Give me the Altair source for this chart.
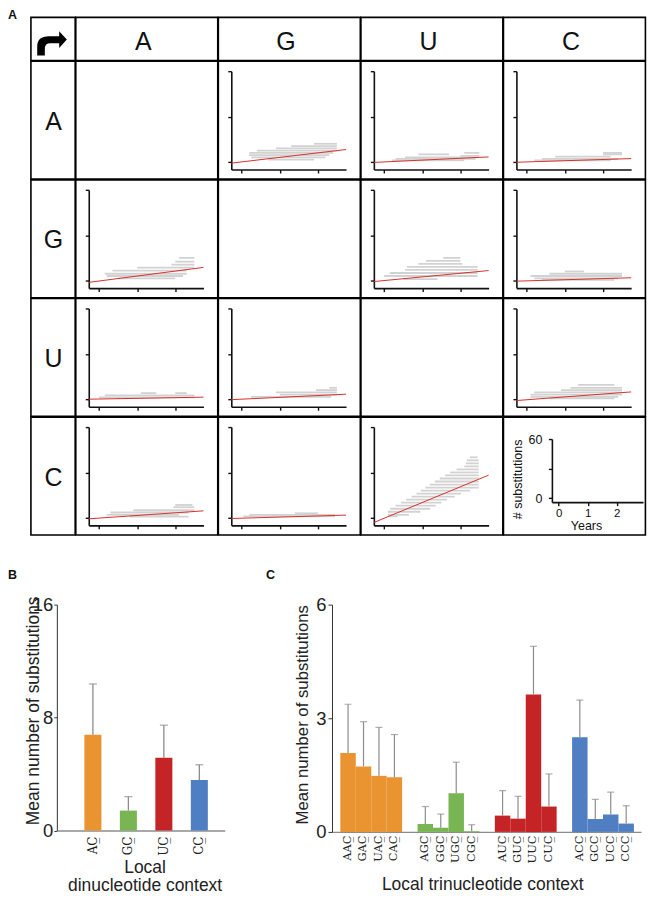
import altair as alt
import pandas as pd

# ---------------- data ----------------
NUCS = ["A", "G", "U", "C"]
YEAR_TICKS = [0, 1, 2]
SUBST_TICKS = [0, 30, 60]

# red regression line per panel (row nucleotide + column nucleotide):
# y at the two ends of the x axis
FIT_X = [-0.27, 2.74]
FIT_Y = {
    "AG": [-0.8, 8.2], "AU": [-0.32, 3.3], "AC": [-0.22, 2.2],
    "GA": [-1.2, 8.7], "GU": [-0.65, 6.6], "GC": [-0.4, 1.85],
    "UA": [-0.02, 1.33], "UG": [-0.32, 3.3], "UC": [-0.9, 4.8],
    "CA": [-0.67, 4.6], "CG": [-0.45, 1.78], "CU": [-3.1, 28.2],
}

# grey streaks of the per-sequence clouds: (substitutions, years from, years to)
CLOUD = {
    "AG": [(12, 1.9, 2.5), (10.5, 1.3, 2.5), (9, 0.9, 2.5), (7.5, 0.4, 2.5), (6, 0.2, 2.4),
           (4.5, 0.2, 2.3), (3, 0.25, 2.2), (1.5, 0.7, 1.9)],
    "AU": [(6, 2.1, 2.5), (5, 0.9, 1.7), (4, 2.0, 2.5), (3, 0.55, 2.45), (2, 0.3, 2.4), (1, 0.2, 2.1)],
    "AC": [(6, 2.0, 2.5), (5, 2.0, 2.5), (3.5, 0.75, 2.2), (2, 0.4, 2.4), (1, 0.2, 2.2)],
    "GA": [(15, 2.1, 2.5), (12.5, 2.0, 2.5), (10.5, 1.9, 2.5), (8.5, 1.0, 2.5), (6.5, 0.35, 2.3),
           (4.5, 0.15, 2.3), (3, 0.2, 2.2), (1.5, 0.5, 2.0)],
    "GU": [(15, 1.55, 2.0), (13, 1.1, 2.0), (11, 0.9, 2.05), (9, 0.6, 2.45), (7, 0.55, 2.45),
           (5, 0.15, 2.45), (3, 0.0, 2.45), (1, 0.5, 1.4)],
    "GC": [(6, 1.0, 1.5), (4.5, 0.6, 2.5), (3, 0.1, 2.5), (1.5, 0.2, 2.4), (0.5, 0.4, 2.3)],
    "UA": [(4, 1.1, 1.5), (4, 2.0, 2.3), (2.5, 0.15, 2.5), (1.2, 0.0, 2.5)],
    "UG": [(7.5, 2.3, 2.5), (6, 1.95, 2.5), (4.5, 0.9, 2.5), (3, 1.0, 2.5), (1.5, 0.25, 2.35)],
    "UC": [(9.5, 1.35, 2.3), (7.5, 1.15, 2.5), (6, 0.9, 2.5), (4.5, 0.2, 2.5), (3, 0.1, 2.5),
           (1.5, 0.1, 2.4), (0.5, 0.6, 2.3)],
    "CA": [(8.5, 2.0, 2.45), (7, 1.95, 2.5), (5, 0.9, 2.5), (3.5, 0.3, 2.35), (2, 0.2, 2.1),
           (0.8, 0.8, 2.35)],
    "CG": [(3, 1.4, 2.0), (2, 0.2, 2.45), (1, 0.05, 2.45)],
    "CU": [(40, 2.25, 2.45), (38, 2.17, 2.48), (36, 2.14, 2.48), (34, 2.1, 2.48), (32, 1.9, 2.48),
           (30, 1.73, 2.48), (28, 1.6, 2.48), (26, 1.46, 2.48), (24, 1.33, 2.48), (22, 1.2, 2.48),
           (20, 1.08, 2.48), (18, 0.96, 2.25), (16, 0.85, 2.02), (14, 0.72, 1.85), (12, 0.58, 1.65),
           (10, 0.44, 1.5), (8, 0.3, 1.35), (6, 0.16, 1.21), (4, 0.1, 0.95), (2, 0.1, 0.65),
           (1, 0.1, 0.35)],
}

B_CONTEXT = ["AC\u0332", "GC\u0332", "UC\u0332", "CC\u0332"]
B_MEAN = [6.78, 1.41, 5.15, 3.58]
B_ERR_TOP = [10.38, 2.40, 7.46, 4.66]
B_TICKS = [0, 8, 16]

C_CONTEXT = ["AAC\u0332", "GAC\u0332", "UAC\u0332", "CAC\u0332",
             "AGC\u0332", "GGC\u0332", "UGC\u0332", "CGC\u0332",
             "AUC\u0332", "GUC\u0332", "UUC\u0332", "CUC\u0332",
             "ACC\u0332", "GCC\u0332", "UCC\u0332", "CCC\u0332"]
C_MEAN = [2.08, 1.73, 1.48, 1.44, 0.21, 0.11, 1.02, 0.02,
          0.43, 0.35, 3.63, 0.67, 2.50, 0.34, 0.46, 0.22]
C_ERR_TOP = [3.37, 2.91, 2.76, 2.57, 0.67, 0.47, 1.84, 0.19,
             1.09, 0.94, 4.90, 1.53, 3.48, 0.86, 1.05, 0.69]
C_TICKS = [0, 3, 6]

ORANGE, GREEN, RED, BLUE = "#E99331", "#79B553", "#C52426", "#4F7EC2"
B_COLORS = [ORANGE, GREEN, RED, BLUE]
C_COLORS = [ORANGE] * 4 + [GREEN] * 4 + [RED] * 4 + [BLUE] * 4
# category axis of panel C with empty slots between the groups
C_DOMAIN = C_CONTEXT[0:4] + [" "] + C_CONTEXT[4:8] + ["  "] + C_CONTEXT[8:12] + ["   "] + C_CONTEXT[12:16]

ARROW = ("M -0.98 0.82 L -0.98 0.2 Q -0.98 -0.47 -0.2 -0.47 L 0.49 -0.47 L 0.49 -0.8 "
         "L 1 -0.25 L 0.49 0.31 L 0.49 0 L -0.1 0 Q -0.47 0 -0.47 0.35 L -0.47 0.82 Z")

# ---------------- layout constants ----------------
SP = 23.0            # space left of the grid
W0, W = 44.4, 142.4  # grid column widths
H0, H = 43.3, 118.2  # grid row heights
TOP = 8              # strip above the grid holding the panel letter
FONT = "Liberation Sans"
LFONT = "DejaVu Serif"
INK = "#111111"
GREY = "#8c8c8c"
NOSTROKE = alt.ViewBackground(stroke="transparent", strokeWidth=0)
ONE = pd.DataFrame({"v": [0]})


def blank(w, h, stroke=True):
    c = alt.Chart(ONE).mark_point(opacity=0, size=1).encode(
        x=alt.value(w / 2), y=alt.value(h / 2)).properties(width=w, height=h)
    if not stroke:
        c = c.properties(view=NOSTROKE)
    return c


def letter(t, x, y):
    return alt.Chart(ONE).mark_text(
        fontSize=12.5, fontWeight="bold", font=FONT, align="left", baseline="top", color=INK
    ).encode(x=alt.value(x), y=alt.value(y), text=alt.value(t))


def label_cell(t, w, h, x, y):
    return alt.Chart(ONE).mark_text(
        fontSize=25, font=FONT, align="center", baseline="alphabetic", color=INK
    ).encode(x=alt.value(x), y=alt.value(y), text=alt.value(t)).properties(width=w, height=h)


def corner_cell():
    return alt.Chart(ONE).mark_point(
        shape=ARROW, filled=True, color="black", size=900, opacity=1, strokeWidth=0
    ).encode(x=alt.value(21), y=alt.value(26)).properties(width=W0, height=H0)


def axis_style(**kw):
    base = dict(grid=False, domainColor=INK, tickColor=INK, domainWidth=1.6,
                tickWidth=1.4, tickSize=3.5)
    base.update(kw)
    return alt.Axis(**base)


def scatter_cell(key):
    segs = pd.DataFrame(CLOUD[key], columns=["n", "t0", "t1"])
    fit = pd.DataFrame({"t": FIT_X, "n": FIT_Y[key]})
    xs = alt.Scale(domain=[-0.27, 2.74], range=[13, 128.1], nice=False, zero=False)
    ys = alt.Scale(domain=[-5, 60], range=[108.6, 10], nice=False, zero=False)
    cloud = alt.Chart(segs).mark_rule(color="#d2d2d2", strokeWidth=1.8).encode(
        x=alt.X("t0:Q", scale=xs, title=None,
                axis=axis_style(values=YEAR_TICKS, labels=False, offset=-(H - 108.6))),
        x2="t1:Q",
        y=alt.Y("n:Q", scale=ys, title=None,
                axis=axis_style(values=SUBST_TICKS, labels=False, offset=-13)),
    )
    line = alt.Chart(fit).mark_line(color="#d9302c", strokeWidth=1.0, clip=True).encode(
        x="t:Q", y="n:Q")
    return alt.layer(cloud, line).properties(width=W, height=H)


def key_cell():
    xs = alt.Scale(domain=[-0.23, 2.9], range=[48.6, 140], nice=False, zero=False)
    ys = alt.Scale(domain=[-4.05, 60], range=[85.3, 22], nice=False, zero=False)
    return alt.Chart(ONE).mark_point(opacity=0, size=1).encode(
        x=alt.X("v:Q", scale=xs,
                axis=axis_style(values=YEAR_TICKS, offset=-(H - 85.3), labelFontSize=11.5,
                                labelPadding=1.5, labelColor=INK, title="Years",
                                titleFontSize=12.5, titleFontWeight="normal", titleColor=INK,
                                titleX=82.8, titleY=27, titleAlign="center",
                                titleBaseline="alphabetic")),
        y=alt.Y("v:Q", scale=ys,
                axis=axis_style(values=SUBST_TICKS, offset=-48.6, labelFontSize=12.5,
                                labelPadding=6.5, labelColor=INK,
                                labelExpr="datum.value == 30 ? '' : datum.label",
                                title="# substitutions", titleFontSize=12.5,
                                titleFontWeight="normal", titleColor=INK, titleAngle=270,
                                titleX=-30.3, titleY=62, titleAlign="center",
                                titleBaseline="alphabetic")),
    ).properties(width=W, height=H)


# ---------------- panel A: substitution grid (flat 6-column layout) ----------------
cells = [letter("A", 0, 0).properties(width=SP, height=TOP, view=NOSTROKE)]
cells += [blank(w, TOP, stroke=False) for w in [W0, W, W, W, W]]
cells += [blank(SP, H0, stroke=False), corner_cell()]
cells += [label_cell(nuc, W, H0, W / 2 - 3.5, 32.3) for nuc in NUCS]
for r in NUCS:
    cells += [blank(SP, H, stroke=False), label_cell(r, W0, H, W0 / 2 + 0.5, H / 2 + 9.7)]
    for c in NUCS:
        if r == c:
            cells.append(key_cell() if r == "C" else blank(W, H))
        else:
            cells.append(scatter_cell(r + c))

grid = alt.concat(*cells, columns=6, spacing=0, bounds="flush", align="each")

# ---------------- panel B ----------------
dfB = pd.DataFrame({"ctx": B_CONTEXT, "mean": B_MEAN, "err": B_ERR_TOP, "col": B_COLORS})
HB = 226.6
xB = alt.X("ctx:N", sort=B_CONTEXT,
           scale=alt.Scale(domain=B_CONTEXT, paddingInner=0.52, paddingOuter=0.626, align=0.62),
           axis=alt.Axis(title=["Local", "dinucleotide context"], labelAngle=270, ticks=False,
                         domainColor=GREY, domainWidth=1.4, labelFont=LFONT,
                         labelFontSize=12, labelPadding=5.5, labelColor="#222",
                         titleFontSize=17.5, titleFontWeight="normal", titleColor="#222",
                         titleX=88, titleY=42, titleAlign="center",
                         titleBaseline="alphabetic", titleLineHeight=18.5))
yB = alt.Y("mean:Q", scale=alt.Scale(domain=[0, 16], nice=False),
           axis=alt.Axis(values=B_TICKS, grid=False, domainColor="#333", tickColor="#333",
                         tickSize=3, labelFontSize=18.5, labelPadding=1, labelColor="#222",
                         title="Mean number of substitutions", titleFontSize=17.5,
                         titleFontWeight="normal", titleColor="#222", titleAngle=270,
                         titleX=-18.8, titleY=106, titleAlign="center",
                         titleBaseline="alphabetic"))
baseB = alt.Chart(dfB)
barsB = baseB.mark_bar().encode(x=xB, y=yB, color=alt.Color("col:N", scale=None))
errB = baseB.mark_rule(color=GREY, strokeWidth=1.3).encode(x=xB, y="mean:Q", y2="err:Q")
capB = baseB.mark_tick(color=GREY, size=8, thickness=1.3).encode(x=xB, y="err:Q")
BX = 49.0  # left of panel B's plot area
chartB = alt.layer(barsB, errB, capB, letter("B", -BX, -36)).properties(
    width=168.4, height=HB, view=NOSTROKE)

# ---------------- panel C ----------------
dfC = pd.DataFrame({"ctx": C_CONTEXT, "mean": C_MEAN, "err": C_ERR_TOP, "col": C_COLORS})
HC = 228
xC = alt.X("ctx:N", sort=C_DOMAIN,
           scale=alt.Scale(domain=C_DOMAIN, paddingInner=0, paddingOuter=0.5, align=0.54),
           axis=alt.Axis(title="Local trinucleotide context", labelAngle=270, ticks=False,
                         domainColor=GREY, domainWidth=1.4, labelFont=LFONT,
                         labelFontSize=11.5, labelPadding=3, labelColor="#222",
                         titleFontSize=17.5, titleFontWeight="normal", titleColor="#222",
                         titleX=150.7, titleY=58, titleAlign="center",
                         titleBaseline="alphabetic"))
yC = alt.Y("mean:Q", scale=alt.Scale(domain=[0, 6], nice=False),
           axis=alt.Axis(values=C_TICKS, grid=False, domainColor="#333", tickColor="#333",
                         tickSize=4, labelFontSize=18.5, labelPadding=2, labelColor="#222",
                         title="Mean  number of substitutions", titleFontSize=16.8,
                         titleFontWeight="normal", titleColor="#222", titleAngle=270,
                         titleX=-25, titleY=110, titleAlign="center",
                         titleBaseline="alphabetic"))
baseC = alt.Chart(dfC)
barsC = baseC.mark_bar().encode(x=xC, y=yC, color=alt.Color("col:N", scale=None))
errC = baseC.mark_rule(color=GREY, strokeWidth=1.2).encode(x=xC, y="mean:Q", y2="err:Q")
capC = baseC.mark_tick(color=GREY, size=7, thickness=1.2).encode(x=xC, y="err:Q")
chartC = alt.layer(barsC, errC, capC, letter("C", -66.3, -36)).properties(
    width=310, height=HC, view=NOSTROKE)

bottom = alt.hconcat(blank(BX, HB, stroke=False), chartB, blank(106.6, HB, stroke=False),
                     chartC, spacing=0, bounds="flush")

chart = alt.vconcat(grid, bottom, spacing=33.1).properties(
    padding=0
).configure(font=FONT).configure_view(stroke="black", strokeWidth=1.6).configure_axis(grid=False)

chart.save("out.html", embed_options={"renderer": "svg", "actions": False})
